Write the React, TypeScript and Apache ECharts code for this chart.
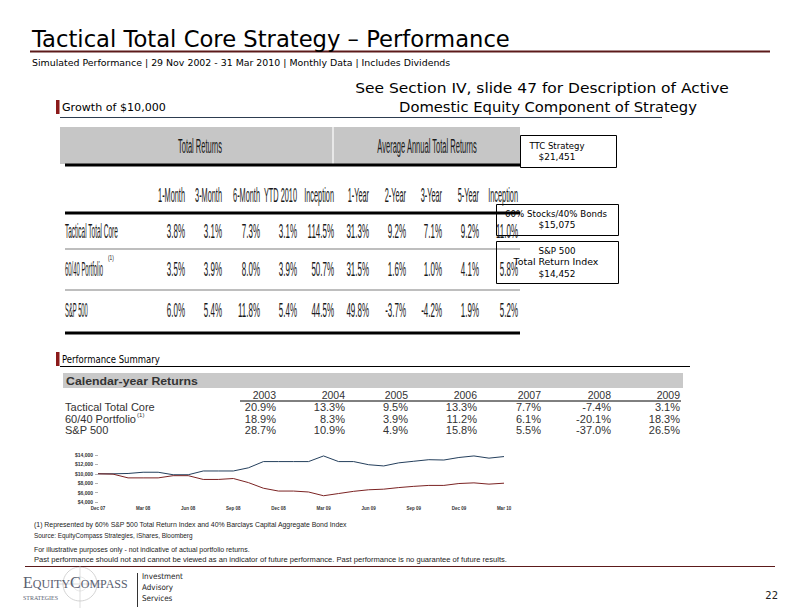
import React, { useEffect, useRef } from "react";
import * as echarts from "echarts";

// ---------- DATA ----------
const months = ["Dec 07","Jan 08","Feb 08","Mar 08","Apr 08","May 08","Jun 08","Jul 08","Aug 08","Sep 08","Oct 08","Nov 08","Dec 08","Jan 09","Feb 09","Mar 09","Apr 09","May 09","Jun 09","Jul 09","Aug 09","Sep 09","Oct 09","Nov 09","Dec 09","Jan 10","Feb 10","Mar 10"];
const ttcGrowth = [10000,10000,10070,10330,10330,9800,9800,10600,10600,10600,11270,12600,12600,12600,12600,13800,12600,12600,11930,11670,12330,12670,13000,12930,13470,13800,13330,13670];
const spGrowth = [10000,9930,9130,9130,9130,9600,9600,8800,8800,9000,8130,6930,6330,6330,6130,5330,5800,6270,6600,6730,7070,7330,7530,7530,7930,8070,7800,8000];
const yTicks = [4000, 6000, 8000, 10000, 12000, 14000];

const returnHeaders = ["1-Month","3-Month","6-Month","YTD 2010","Inception","1-Year","2-Year","3-Year","5-Year","Inception"];
const returnRows = ["Tactical Total Core","60/40 Portfolio","S&P 500"];
const ttcReturns = [3.8,3.1,7.3,3.1,114.5,31.3,9.2,7.1,9.2,11.0];
const portReturns = [3.5,3.9,8.0,3.9,50.7,31.5,1.6,1.0,4.1,5.8];
const spReturns = [6.0,5.4,11.8,5.4,44.5,49.8,-3.7,-4.2,1.9,5.2];

const years = ["2003","2004","2005","2006","2007","2008","2009"];
const calRows = ["Tactical Total Core","60/40 Portfolio","S&P 500"];
const ttcCal = [20.9,13.3,9.5,13.3,7.7,-7.4,3.1];
const portCal = [18.9,8.3,3.9,11.2,6.1,-20.1,18.3];
const spCal = [28.7,10.9,4.9,15.8,5.5,-37.0,26.5];

const endBox1 = ["TTC Strategy","$21,451"];
const endBox2 = ["60% Stocks/40% Bonds","$15,075"];
const endBox3 = ["S&P 500","Total Return Index","$14,452"];

const footnotes = [
  "(1) Represented by 60% S&P 500 Total Return Index and 40% Barclays Capital Aggregate Bond Index",
  "Source: EquityCompass Strategies, iShares, Bloomberg",
  "For illustrative purposes only - not indicative of actual portfolio returns.",
  "Past performance should not and cannot be viewed as an indicator of future performance. Past performance is no guarantee of future results.",
];

// ---------- HELPERS ----------
const SL = "'DejaVu Sans', sans-serif";
const AR = "'Liberation Sans', Arial, sans-serif";
const SE = "'Liberation Serif', serif";

let ctx: CanvasRenderingContext2D | null = null;
function measure(text: string, font: string) {
  if (!ctx) ctx = document.createElement("canvas").getContext("2d");
  ctx!.font = font;
  return ctx!.measureText(text).width || 1;
}
const pct = (v: number) => v.toFixed(1) + "%";

function buildGraphics() {
  const els: any[] = [];
  const txt = (text: string, x: number, y: number, size: number, family: string, o: any = {}) => {
    const weight = o.weight || "normal";
    let s = o.sx ?? 1;
    if (o.w) s = o.w / measure(text, `${weight} ${size}px ${family}`);
    els.push({
      type: "text", x, y, scaleX: s, silent: true, z: 10,
      style: { text, fontSize: size, fontFamily: family, fontWeight: weight, fill: o.fill || "#000",
        align: o.align || "left", verticalAlign: o.va || "middle" },
    });
  };
  const line = (x1: number, y1: number, x2: number, y2: number, stroke: string, lw: number) =>
    els.push({ type: "line", silent: true, z: 5, shape: { x1, y1, x2, y2 }, style: { stroke, lineWidth: lw } });
  const rect = (x: number, y: number, width: number, height: number, style: any, z = 1) =>
    els.push({ type: "rect", silent: true, z, shape: { x, y, width, height }, style });

  // Title
  txt("Tactical Total Core Strategy – Performance", 32, 39, 23, SL, { w: 478 });
  line(30, 51.5, 770, 51.5, "#5c1a1a", 2);
  txt("Simulated Performance | 29 Nov 2002 - 31 Mar 2010 | Monthly Data | Includes Dividends", 32, 63, 8.5, SL, { w: 419 });

  txt("See Section IV, slide 47 for Description of Active", 542, 88, 14, SL, { w: 374, align: "center" });
  txt("Domestic Equity Component of Strategy", 548, 107, 14, SL, { w: 298, align: "center" });

  rect(56, 100, 3.5, 14, { fill: "#8b1a1a" });
  txt("Growth of $10,000", 62, 108, 10.5, SL, { w: 104 });
  line(60, 117.5, 662, 117.5, "#2d3d50", 1);

  // Returns table (picture)
  rect(60, 127, 460, 37, { fill: "#c6c6c6" });
  line(333, 127, 333, 164, "#ffffff", 1.2);
  txt("Total Returns", 200, 146, 21, AR, { w: 44, align: "center", fill: "#1a1a1a" });
  txt("Average Annual Total Returns", 427, 146, 21, AR, { w: 100, align: "center", fill: "#1a1a1a" });
  line(65, 165, 520, 165, "#000", 3);
  const colR = [185, 222, 260, 297, 334, 369, 406, 442, 479, 518];
  returnHeaders.forEach((h, i) => txt(h, colR[i], 195, 21, AR, { sx: 0.35, align: "right", fill: "#1a1a1a" }));
  line(65, 213, 520, 213, "#000", 3);
  const rowY = [231, 269, 310];
  const rowW = [53, 38, 23];
  const rowVals = [ttcReturns, portReturns, spReturns];
  returnRows.forEach((r, ri) => {
    txt(r, 65, rowY[ri], 21, AR, { w: rowW[ri], fill: "#1a1a1a" });
    rowVals[ri].forEach((v, i) => txt(pct(v), colR[i], rowY[ri], 21, AR, { sx: 0.38, align: "right", fill: "#1a1a1a" }));
  });
  txt("(1)", 108, 257, 8, AR, { sx: 0.6, fill: "#1a1a1a" });
  line(65, 249, 520, 249, "#a8a8a8", 1.5);
  line(65, 290, 520, 290, "#a8a8a8", 1.5);
  line(65, 333, 520, 333, "#000", 3);

  // Ending-value boxes
  rect(520.5, 135.5, 96, 32, { fill: "none", stroke: "#000", lineWidth: 1 }, 8);
  txt(endBox1[0], 557, 146, 9, SL, { w: 55, align: "center" });
  txt(endBox1[1], 557, 157, 9, SL, { w: 37, align: "center" });
  rect(496.5, 204.5, 122, 31, { fill: "none", stroke: "#000", lineWidth: 1 }, 8);
  txt(endBox2[0], 556, 214, 9, SL, { w: 102, align: "center" });
  txt(endBox2[1], 557, 225, 9, SL, { w: 37, align: "center" });
  rect(496.5, 241.5, 122, 42, { fill: "none", stroke: "#000", lineWidth: 1 }, 8);
  txt(endBox3[0], 557, 251, 9, SL, { w: 37, align: "center" });
  txt(endBox3[1], 556, 262, 9, SL, { w: 85, align: "center" });
  txt(endBox3[2], 557, 274, 9, SL, { w: 37, align: "center" });

  // Performance summary
  rect(56, 352, 3.5, 14, { fill: "#8b1a1a" });
  txt("Performance Summary", 62, 359, 10, SL, { w: 98 });
  line(60, 366.5, 690, 366.5, "#000", 1);
  rect(63, 373, 620, 15, { fill: "#c9c9c9" });
  txt("Calendar-year Returns", 66, 380.5, 11, AR, { weight: "bold", w: 132, fill: "#333" });
  const calR = [276, 345, 408, 477, 541, 611, 680];
  years.forEach((y, i) => txt(y, calR[i], 395, 10.5, AR, { sx: 1.0, align: "right", fill: "#333" }));
  line(240, 401, 681, 401, "#000", 1);
  const calY = [407.5, 419, 430.5];
  const calVals = [ttcCal, portCal, spCal];
  calRows.forEach((r, ri) => {
    txt(r, 65, calY[ri], 10.5, AR, { sx: 1.05, fill: "#333" });
    calVals[ri].forEach((v, i) => txt(pct(v), calR[i], calY[ri], 10.5, AR, { sx: 1.05, align: "right", fill: "#333" }));
  });
  const pw = measure("60/40 Portfolio", `normal 10.5px ${AR}`) * 1.05;
  txt("(1)", 65 + pw + 1, 415, 6, AR, { fill: "#333" });

  // Footnotes
  txt(footnotes[0], 34, 524, 7, AR, { w: 314, fill: "#222" });
  txt(footnotes[1], 34, 535, 7, AR, { w: 159, fill: "#222" });
  txt(footnotes[2], 34, 549, 7, AR, { w: 216, fill: "#222" });
  txt(footnotes[3], 34, 560, 7, AR, { w: 474, fill: "#222" });
  line(25, 566.5, 775, 566.5, "#5c1a1a", 1);

  // Logo
  els.push({ type: "circle", silent: true, z: 3, shape: { cx: 80, cy: 584, r: 17 }, style: { fill: "none", stroke: "#c8c8c8", lineWidth: 0.8 } });
  els.push({ type: "circle", silent: true, z: 3, shape: { cx: 80, cy: 584, r: 7 }, style: { fill: "none", stroke: "#d8d8d8", lineWidth: 0.6 } });
  line(80, 566, 80, 608, "#c8c8c8", 0.6);
  line(57, 584, 103, 584, "#c8c8c8", 0.6);
  els.push({
    type: "text", x: 23, y: 590, silent: true, z: 10,
    style: {
      text: "{a|E}{b|QUITY}{a|C}{b|OMPASS}", verticalAlign: "bottom", align: "left",
      rich: {
        a: { fontSize: 16, fontFamily: SE, fill: "#5a6070", verticalAlign: "bottom" },
        b: { fontSize: 12, fontFamily: SE, fill: "#5a6070", verticalAlign: "bottom" },
      },
    },
  });
  txt("STRATEGIES", 23, 597, 7, SE, { w: 35, fill: "#5a6070" });
  line(137.5, 573, 137.5, 607, "#333", 1);
  txt("Investment", 142, 576, 8, SL, { sx: 0.9, fill: "#222" });
  txt("Advisory", 142, 587, 8, SL, { sx: 0.9, fill: "#222" });
  txt("Services", 142, 598, 8, SL, { sx: 0.9, fill: "#222" });
  txt("22", 778, 595, 10, SL, { align: "right", fill: "#222" });

  return els;
}

export default function App() {
  const ref = useRef<HTMLDivElement>(null);
  useEffect(() => {
    if (!ref.current) return;
    const chart = echarts.init(ref.current, undefined, { renderer: "svg" });
    chart.setOption({
      animation: false,
      backgroundColor: "#ffffff",
      grid: { left: 98, right: 288, top: 455, bottom: 110, containLabel: false },
      xAxis: {
        type: "category", data: months, boundaryGap: false,
        axisLine: { show: false }, axisTick: { show: false }, splitLine: { show: false },
        axisLabel: { interval: 2, fontSize: 4.5, fontWeight: "bold", color: "#333", margin: 4, fontFamily: AR },
      },
      yAxis: {
        type: "value", min: yTicks[0], max: yTicks[yTicks.length - 1], interval: 2000,
        axisLine: { show: false }, splitLine: { show: false },
        axisTick: { show: true, length: 3, lineStyle: { color: "#666", width: 0.5 } },
        axisLabel: {
          fontSize: 5, fontWeight: "bold", color: "#333", margin: 5, fontFamily: AR,
          formatter: (v: number) => "$" + v.toLocaleString("en-US"),
        },
      },
      series: [
        { name: "Tactical Total Core", type: "line", data: ttcGrowth, symbol: "none", lineStyle: { color: "#243f5c", width: 1 }, itemStyle: { color: "#243f5c" } },
        { name: "S&P 500", type: "line", data: spGrowth, symbol: "none", lineStyle: { color: "#7b2323", width: 1 }, itemStyle: { color: "#7b2323" } },
      ],
      graphic: { elements: buildGraphics() },
    });
    return () => chart.dispose();
  }, []);
  return <div ref={ref} style={{ position: "absolute", left: 0, top: 0, width: 792, height: 612 }} />;
}
